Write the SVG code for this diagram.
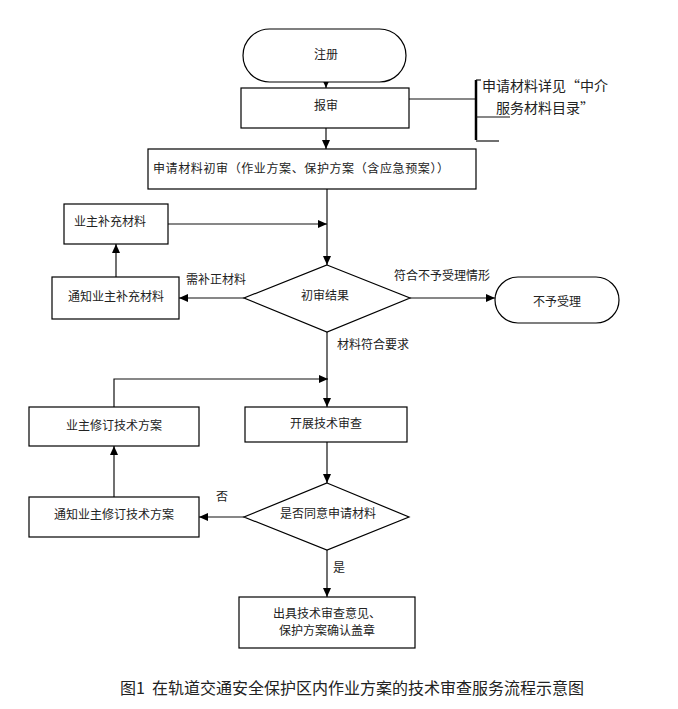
<svg xmlns="http://www.w3.org/2000/svg" width="678" height="709" viewBox="0 0 678 709">
<style>
.s{fill:#fff;stroke:#000;stroke-width:1.2}
.t{font-family:"Noto Sans CJK SC","Liberation Serif",serif;font-size:12px;fill:#222;dominant-baseline:central;text-anchor:middle}
.l{fill:none;stroke:#111;stroke-width:1.2}
.a{marker-end:url(#ah)}
</style>
<defs>
<marker id="ah" markerUnits="userSpaceOnUse" markerWidth="9" markerHeight="8" refX="9" refY="4" orient="auto">
<path d="M0,0 L9,4 L0,8 z" fill="#000"/>
</marker>
</defs>
<rect width="678" height="709" fill="#fff"/>
<g id="connectors">
<line class="l a" x1="326" y1="82" x2="326" y2="88"/>
<line class="l a" x1="326" y1="128" x2="326" y2="149"/>
<line class="l" x1="409" y1="99" x2="476" y2="99"/>
<line x1="476" y1="80" x2="476" y2="140" stroke="#000" stroke-width="2.5"/>
<line class="l" x1="476" y1="80" x2="481" y2="80"/>
<line class="l" x1="476" y1="117" x2="510" y2="117"/>
<line class="l" x1="476" y1="141" x2="499" y2="141"/>
<line class="l a" x1="327" y1="189" x2="327" y2="265"/>
<line class="l a" x1="168" y1="224" x2="327" y2="224"/>
<line class="l a" x1="244" y1="298" x2="179" y2="298"/>
<line class="l a" x1="116" y1="277" x2="116" y2="244"/>
<line class="l a" x1="410" y1="298" x2="495" y2="298"/>
<line class="l a" x1="327" y1="332" x2="327" y2="407"/>
<polyline class="l a" points="114,407 114,379 328,379"/>
<line class="l a" x1="327" y1="442" x2="327" y2="483"/>
<line class="l a" x1="244" y1="517" x2="199" y2="517"/>
<line class="l a" x1="114" y1="497" x2="114" y2="446"/>
<line class="l a" x1="327" y1="550" x2="327" y2="597"/>
<text class="t" x="216" y="278">需补正材料</text>
<text class="t" x="442" y="274">符合不予受理情形</text>
<text class="t" x="373" y="343">材料符合要求</text>
<text class="t" x="222" y="495">否</text>
<text class="t" x="339" y="566">是</text>
</g>
<g id="register"><rect class="s" x="243" y="29" width="163" height="53" rx="26.5"/><text class="t" x="326" y="53">注册</text></g>
<g id="submit"><rect class="s" x="241" y="88" width="168" height="40"/><text class="t" x="326" y="104">报审</text></g>
<g id="note"><text class="t" x="545" y="85" style="font-size:14px">申请材料详见“中介</text><text class="t" x="545" y="107" style="font-size:14px">服务材料目录”</text></g>
<g id="prelim"><rect class="s" x="148" y="149" width="328" height="40"/><text class="t" x="301" y="167" textLength="296" lengthAdjust="spacing">申请材料初审（作业方案、保护方案（含应急预案））</text></g>
<g id="supplement"><rect class="s" x="64" y="204" width="104" height="40"/><text class="t" x="110" y="220">业主补充材料</text></g>
<g id="notify-supplement"><rect class="s" x="52" y="277" width="127" height="42"/><text class="t" x="116" y="295">通知业主补充材料</text></g>
<g id="prelim-result"><polygon class="s" points="327,265 410,298 327,332 244,298"/><text class="t" x="325" y="294">初审结果</text></g>
<g id="reject"><rect class="s" x="495" y="277" width="124" height="46" rx="23"/><text class="t" x="557" y="300">不予受理</text></g>
<g id="revise"><rect class="s" x="29" y="407" width="170" height="39"/><text class="t" x="114" y="424">业主修订技术方案</text></g>
<g id="review"><rect class="s" x="245" y="407" width="162" height="35"/><text class="t" x="326" y="422">开展技术审查</text></g>
<g id="agree"><polygon class="s" points="327,483 409,517 327,550 244,517"/><text class="t" x="328" y="512">是否同意申请材料</text></g>
<g id="notify-revise"><rect class="s" x="29" y="497" width="170" height="40"/><text class="t" x="114" y="513">通知业主修订技术方案</text></g>
<g id="issue"><rect class="s" x="239" y="597" width="176" height="51"/><text class="t" x="327" y="612">出具技术审查意见、</text><text class="t" x="327" y="629">保护方案确认盖章</text></g>
<text class="t" x="352" y="687" style="font-size:16px" xml:space="preserve">图1  在轨道交通安全保护区内作业方案的技术审查服务流程示意图</text>
</svg>
